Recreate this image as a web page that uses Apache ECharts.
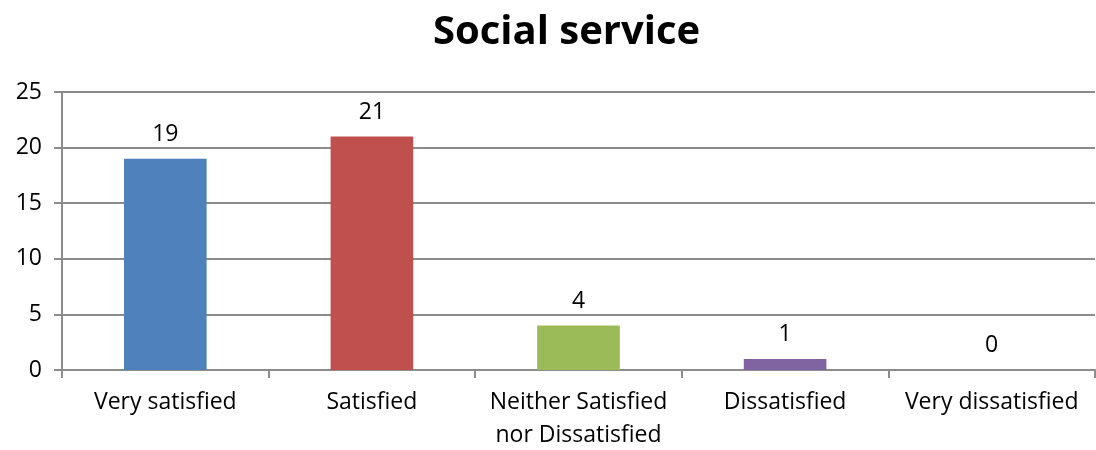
<!DOCTYPE html>
<html><head><meta charset="utf-8">
<script src="https://cdn.jsdelivr.net/npm/echarts@6/dist/echarts.min.js"></script>
<style>html,body{margin:0;padding:0;background:#fff}#c{width:1096px;height:450px}</style>
</head><body><div id="c"></div>
<script>
const title = "Social service";
const categories = ["Very satisfied", "Satisfied", "Neither Satisfied\nnor Dissatisfied", "Dissatisfied", "Very dissatisfied"];
const values = [19, 21, 4, 1, 0];
const colors = ["#4F81BD", "#C0504D", "#9BBB59", "#8064A2", "#4BACC6"];
const yTicks = [0, 5, 10, 15, 20, 25];

const font = "'Open Sans', sans-serif";
const chart = echarts.init(document.getElementById('c'), null, {renderer: 'canvas'});
chart.setOption({
  animation: false,
  title: {text: title, left: 428, top: 8,
    textStyle: {fontFamily: font, fontWeight: 'bold', fontSize: 40, color: '#000'}},
  grid: {left: 62, right: 1, top: 92, bottom: 80, containLabel: false, outerBoundsMode: 'none'},
  xAxis: {type: 'category', data: categories,
    axisLine: {lineStyle: {color: '#8c8c8c', width: 2}},
    axisTick: {show: true, interval: 0, length: 8, lineStyle: {color: '#8c8c8c', width: 2}},
    axisLabel: {interval: 0, hideOverlap: false, fontFamily: font, fontSize: 23, color: '#000', margin: 16, lineHeight: 33}},
  yAxis: {type: 'value', min: yTicks[0], max: yTicks[yTicks.length-1], interval: 5,
    axisLine: {show: true, lineStyle: {color: '#8c8c8c', width: 2}},
    axisTick: {show: true, length: 8, lineStyle: {color: '#8c8c8c', width: 2}},
    splitLine: {lineStyle: {color: '#8c8c8c', width: 2}},
    axisLabel: {fontFamily: font, fontSize: 23, color: '#000', margin: 20}},
  series: [{type: 'bar', barWidth: '40%',
    data: values.map((v, i) => ({value: v, itemStyle: {color: colors[i]}})),
    label: {show: true, position: 'top', distance: 13, fontFamily: font, fontSize: 23, color: '#000'}}]
});
</script></body></html>
